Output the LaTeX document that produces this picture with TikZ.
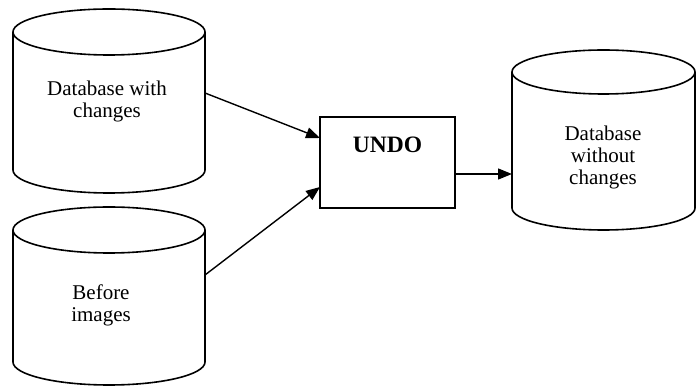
\documentclass[tikz,border=0pt]{standalone}
\usepackage{fontspec}
\setmainfont{Liberation Serif}
\usetikzlibrary{arrows.meta}
\begin{document}
\begin{tikzpicture}[x=1pt,y=-1pt,
  line width=1.6pt,
  lbl/.style={align=center,font=\fontsize{21}{22}\selectfont,inner sep=0pt},
  boxnode/.style={draw,minimum width=135pt,minimum height=91pt,inner sep=0pt},
  arr/.style={-{Triangle[length=14pt,width=11pt]},line width=1.4pt}]
\useasboundingbox (0,0) rectangle (697,387);
% cylinder 1
\draw (13,32) -- (13,170) arc[start angle=180,end angle=0,x radius=96,y radius=23] -- (205,32);
\draw (109,32) ellipse[x radius=96,y radius=23];
\node[lbl] (t1) at (107,101) {Database with\\changes};
% cylinder 2
\draw (13,230) -- (13,362) arc[start angle=180,end angle=0,x radius=96,y radius=23] -- (205,230);
\draw (109,230) ellipse[x radius=96,y radius=23];
\node[lbl] (t2) at (101,305) {Before\\images};
% cylinder 3
\draw (512,72) -- (512,208) arc[start angle=180,end angle=0,x radius=91.5,y radius=22] -- (695,72);
\draw (603.5,72) ellipse[x radius=91.5,y radius=22];
\node[lbl] (t3) at (603,157) {Database\\without\\changes};
% UNDO box
\node[boxnode] (undo) at (387.5,162.5) {};
\node[font=\fontsize{23.5}{24}\selectfont\bfseries,inner sep=0pt] (undotxt) at (387.5,145) {UNDO};
% connector points
\coordinate (c1) at (205,93);
\coordinate (c2) at (205,275);
\coordinate (u1) at (320,138);
\coordinate (u2) at (320,187);
\coordinate (u3) at (455,174);
\coordinate (c3) at (512,174);
\draw[arr] (c1) -- (u1);
\draw[arr] (c2) -- (u2);
\draw[arr] (u3) -- (c3);
\end{tikzpicture}
\end{document}
